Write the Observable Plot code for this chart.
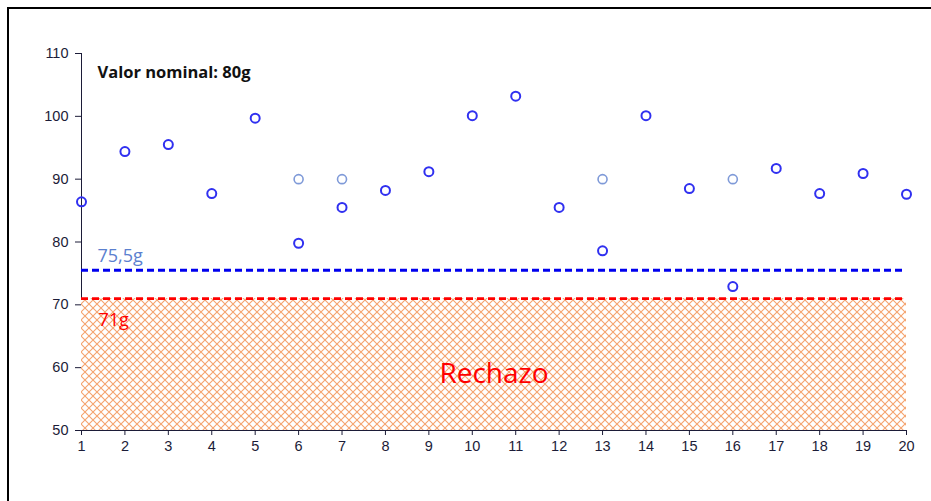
<!DOCTYPE html>
<html>
<head>
<meta charset="utf-8">
<script src="https://cdn.jsdelivr.net/npm/d3@7"></script>
<script src="https://cdn.jsdelivr.net/npm/@observablehq/plot@0.6"></script>
<style>
  html, body { margin: 0; padding: 0; background: #fff; overflow: hidden; }
  #frame { position: absolute; left: 7px; top: 7px; width: 1200px; height: 800px; border-left: 2px solid #000; border-top: 2px solid #000; }
  #chart { position: absolute; left: 0; top: 0; }
  #chart svg { background: transparent; }
</style>
</head>
<body>
<div id="frame"></div>
<div id="chart"></div>
<script>
// Sample index (1..20) and measured weight (g)
const samples = [1,2,3,4,5,6,7,8,9,10,11,12,13,14,15,16,17,18,19,20];
const weights = [86.4,94.4,95.5,87.7,99.7,79.8,85.5,88.2,91.2,100.1,103.2,85.5,78.6,100.1,88.5,72.9,91.7,87.7,90.9,87.6];
// Re-measured samples (light markers)
const reSamples = [6,7,13,16];
const reWeights = [90,90,90,90];
// Thresholds
const limitWarn = 75.5;
const limitReject = 71;
const yMin = 50, yMax = 110;
const yTicks = [50,60,70,80,90,100,110];
const xTicks = samples;
const labelNominal = "Valor nominal: 80g";
const labelWarn = "75,5g";
const labelReject = "71g";
const labelZone = "Rechazo";

const main = samples.map((s, i) => ({x: s, y: weights[i]}));
const re = reSamples.map((s, i) => ({x: s, y: reWeights[i]}));
const labelFont = "'Open Sans', 'Noto Sans', sans-serif";

const chart = Plot.plot({
  width: 931,
  height: 501,
  marginLeft: 81,
  marginRight: 25,
  marginTop: 53,
  marginBottom: 71,
  style: {fontFamily: "'Liberation Sans', Arial, sans-serif", fontSize: "14.5px", color: "#1c1c38", background: "transparent"},
  x: {domain: [1, 20], ticks: xTicks, tickFormat: d => String(d), tickSize: 5, tickPadding: 5, label: null, line: true},
  y: {domain: [yMin, yMax], ticks: yTicks, tickSize: 6, tickPadding: 7, label: null, line: true},
  marks: [
    Plot.rect([{x1: 1, x2: 20, y1: yMin, y2: limitReject}], {x1: "x1", x2: "x2", y1: "y1", y2: "y2", fill: "url(#crosshatch)"}),
    Plot.ruleY([limitWarn], {x1: 1, x2: 20, stroke: "#0000ee", strokeWidth: 3, strokeDasharray: "7,4"}),
    Plot.ruleY([limitReject], {x1: 1, x2: 20, stroke: "#ff0000", strokeWidth: 2.8, strokeDasharray: "7,4"}),
    Plot.dot(re, {x: "x", y: "y", r: 4.5, stroke: "#7f9ad8", strokeWidth: 1.6, fill: "none"}),
    Plot.dot(main, {x: "x", y: "y", r: 4.5, stroke: "#3030f0", strokeWidth: 2, fill: "none"}),
    Plot.text([labelNominal], {frameAnchor: "top-left", dx: 16, dy: 13, text: d => d, textAnchor: "start", fontWeight: "bold", fontSize: 16.5, fill: "#111", fontFamily: labelFont}),
    Plot.text([labelWarn], {x: 1, y: limitWarn, dx: 16, dy: -14, text: d => d, textAnchor: "start", fontSize: 18, fill: "#5b80cf", fontFamily: labelFont}),
    Plot.text([labelReject], {x: 1, y: limitReject, dx: 17, dy: 22, text: d => d, textAnchor: "start", fontSize: 18, fill: "#ff0000", fontFamily: labelFont}),
    Plot.text([labelZone], {x: (1 + 20) / 2, y: (yMin + limitReject) / 2, dx: 0, dy: 10, text: d => d, fontSize: 28, fill: "#ff0000", fontFamily: labelFont})
  ]
});

// crosshatch pattern definition
const svg = d3.select(chart);
const defs = svg.insert("defs", ":first-child");
const pat = defs.append("pattern")
  .attr("id", "crosshatch")
  .attr("patternUnits", "userSpaceOnUse")
  .attr("width", 8).attr("height", 8)
  .attr("x", 81).attr("y", 0);
pat.append("rect").attr("width", 8).attr("height", 8).attr("fill", "#fff");
pat.append("path").attr("d", "M0,0L8,8M8,0L0,8").attr("stroke", "#f5a36e").attr("stroke-width", 1.1).attr("fill", "none");

document.getElementById("chart").appendChild(chart);
</script>
</body>
</html>
